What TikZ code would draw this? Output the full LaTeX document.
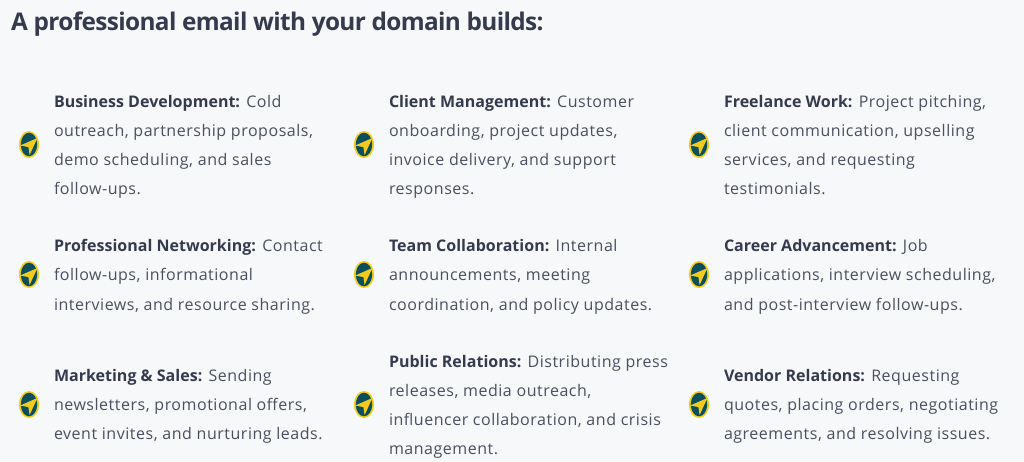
\documentclass[tikz,border=0pt]{standalone}
\usepackage{fontspec}
\setmainfont{Open Sans}[LetterSpace=3.3]
\newfontfamily\headfont{Open Sans Bold}[LetterSpace=-2.6]
\newfontfamily\leadfont{Open Sans Bold}[LetterSpace=0.1]
\usetikzlibrary{shapes.geometric}
\definecolor{bgc}{HTML}{F7F8FA}
\definecolor{bodyc}{HTML}{4A5060}
\definecolor{boldc}{HTML}{343B4E}
\definecolor{tealc}{HTML}{0B4F5C}
\definecolor{yelc}{HTML}{F2CB1D}
\tikzset{
  txt/.style={anchor=base west,inner sep=0pt,outer sep=0pt,text=bodyc,font=\fontsize{16}{16}\selectfont},
  head/.style={anchor=base west,inner sep=0pt,text=boldc,font=\headfont\fontsize{24.35}{26}\selectfont},
  icon back/.style={inner sep=0pt,ellipse,fill=yelc,minimum width=20pt,minimum height=27pt}
}
\newcommand{\lead}[1]{\textcolor{boldc}{\leadfont #1}}
\newcommand{\myicon}[3]{%
  \node[icon back] (#3) at (#1,#2) {};
  \fill[tealc] (#1,#2) ellipse [x radius=8.2,y radius=11.8];
  \fill[yelc] (#1-8.8,#2+1) -- (#1+8.4,#2-6.5) -- (#1+0.6,#2+10.5) -- (#1-0.6,#2+2.6) -- cycle;
}
\begin{document}
\begin{tikzpicture}[x=1pt,y=-1pt]
\useasboundingbox (0,0) rectangle (1024,462);
\fill[bgc] (0,0) rectangle (1024,462);
\node[head] (title) at (11,31) {A professional email with your domain builds:};
\myicon{29}{144.5}{i1}\myicon{364}{144.5}{i2}\myicon{699}{144.5}{i3}
\myicon{29}{274.5}{i4}\myicon{364}{274.5}{i5}\myicon{699}{274.5}{i6}
\myicon{29}{404.5}{i7}\myicon{364}{404.5}{i8}\myicon{699}{404.5}{i9}
\node[txt] (a1) at (54,108) {\lead{Business Development:} Cold};
\node[txt] (a2) at (54,137) {outreach, partnership proposals,};
\node[txt] (a3) at (54,166) {demo scheduling, and sales};
\node[txt] (a4) at (54,195) {follow-ups.};
\node[txt] (b1) at (389,108) {\lead{Client Management:} Customer};
\node[txt] (b2) at (389,137) {onboarding, project updates,};
\node[txt] (b3) at (389,166) {invoice delivery, and support};
\node[txt] (b4) at (389,195) {responses.};
\node[txt] (c1) at (724,108) {\lead{Freelance Work:} Project pitching,};
\node[txt] (c2) at (724,137) {client communication, upselling};
\node[txt] (c3) at (724,166) {services, and requesting};
\node[txt] (c4) at (724,195) {testimonials.};
\node[txt] (d1) at (54,251.5) {\lead{Professional Networking:} Contact};
\node[txt] (d2) at (54,280.5) {follow-ups, informational};
\node[txt] (d3) at (54,310) {interviews, and resource sharing.};
\node[txt] (e1) at (389,251.5) {\lead{Team Collaboration:} Internal};
\node[txt] (e2) at (389,280.5) {announcements, meeting};
\node[txt] (e3) at (389,310) {coordination, and policy updates.};
\node[txt] (f1) at (724,251.5) {\lead{Career Advancement:} Job};
\node[txt] (f2) at (724,280.5) {applications, interview scheduling,};
\node[txt] (f3) at (724,310) {and post-interview follow-ups.};
\node[txt] (g1) at (54,381.5) {\lead{Marketing \& Sales:} Sending};
\node[txt] (g2) at (54,410.5) {newsletters, promotional offers,};
\node[txt] (g3) at (54,439.5) {event invites, and nurturing leads.};
\node[txt] (h1) at (389,367) {\lead{Public Relations:} Distributing press};
\node[txt] (h2) at (389,396) {releases, media outreach,};
\node[txt] (h3) at (389,425) {influencer collaboration, and crisis};
\node[txt] (h4) at (389,454.5) {management.};
\node[txt] (j1) at (724,381.5) {\lead{Vendor Relations:} Requesting};
\node[txt] (j2) at (724,410.5) {quotes, placing orders, negotiating};
\node[txt] (j3) at (724,439.5) {agreements, and resolving issues.};
\end{tikzpicture}
\end{document}
